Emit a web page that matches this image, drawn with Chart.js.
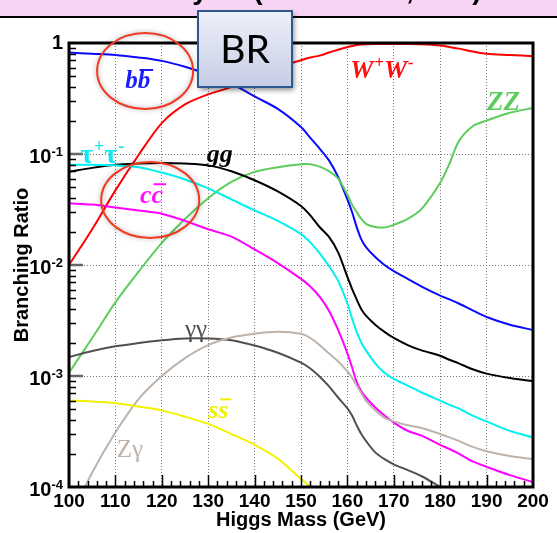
<!DOCTYPE html>
<html>
<head>
<meta charset="utf-8">
<script src="https://cdn.jsdelivr.net/npm/chart.js@4.4.1/dist/chart.umd.min.js"></script>
<style>
html, body { margin: 0; padding: 0; background: #fff; }
#c { display: block; }
</style>
</head>
<body>
<canvas id="c" width="557" height="533"></canvas>
<script>
// Higgs mass grid (GeV) and branching ratios
const masses = [100, 105, 110, 115, 120, 125, 130, 135, 140, 145, 150, 152, 154, 156, 158, 160, 161, 162, 163, 164, 166, 168, 170, 173, 176, 180, 182, 184, 187, 190, 195, 200];

const brBB = [0.82, 0.80, 0.78, 0.74, 0.69, 0.61, 0.52, 0.43, 0.33, 0.255, 0.175, 0.14, 0.112, 0.088, 0.062, 0.039, 0.030, 0.022, 0.017, 0.0145, 0.0118, 0.0100, 0.0088, 0.0075, 0.0064, 0.0053, 0.0049, 0.0045, 0.0039, 0.0034, 0.0029, 0.0026];
const brWW = [0.010, 0.021, 0.047, 0.098, 0.19, 0.28, 0.345, 0.40, 0.48, 0.60, 0.70, 0.74, 0.77, 0.82, 0.87, 0.92, 0.94, 0.96, 0.97, 0.975, 0.98, 0.98, 0.98, 0.98, 0.975, 0.95, 0.92, 0.89, 0.84, 0.80, 0.78, 0.76];
const brZZ = [0.00107, 0.0022, 0.0046, 0.0087, 0.0158, 0.026, 0.040, 0.056, 0.069, 0.076, 0.081, 0.081, 0.077, 0.070, 0.060, 0.043, 0.035, 0.030, 0.026, 0.0235, 0.022, 0.0218, 0.023, 0.026, 0.032, 0.055, 0.082, 0.13, 0.178, 0.20, 0.235, 0.26];
const brGG = [0.069, 0.075, 0.080, 0.082, 0.083, 0.082, 0.079, 0.070, 0.058, 0.046, 0.034, 0.028, 0.022, 0.018, 0.013, 0.0078, 0.0061, 0.0049, 0.0040, 0.0035, 0.0029, 0.0025, 0.0022, 0.0019, 0.0017, 0.00152, 0.0014, 0.0013, 0.00115, 0.00105, 0.00096, 0.00090];
const brTT = [0.080, 0.080, 0.079, 0.076, 0.068, 0.059, 0.049, 0.039, 0.031, 0.025, 0.019, 0.016, 0.0128, 0.0098, 0.0072, 0.0045, 0.0033, 0.0025, 0.0020, 0.0017, 0.0013, 0.00107, 0.00094, 0.00082, 0.00071, 0.00060, 0.00055, 0.00051, 0.00044, 0.00039, 0.00032, 0.00028];
const brCC = [0.036, 0.035, 0.033, 0.031, 0.029, 0.025, 0.021, 0.018, 0.0138, 0.0104, 0.0075, 0.0064, 0.0052, 0.0039, 0.0026, 0.0016, 0.0012, 0.00088, 0.00073, 0.00064, 0.00052, 0.00044, 0.00038, 0.00032, 0.00029, 0.00024, 0.00022, 0.00020, 0.00017, 0.000152, 0.000128, 0.000111];
const brAA = [0.00148, 0.00168, 0.00185, 0.00198, 0.0021, 0.00218, 0.00218, 0.0021, 0.00188, 0.00162, 0.00132, 0.00117, 0.00099, 0.00081, 0.00064, 0.00051, 0.00044, 0.00036, 0.0003, 0.00026, 0.000205, 0.000178, 0.00016, 0.000142, 0.000125, 0.0001, 0.00009, 0.00008, null, null, null, null];
const brZA = [0.00005, 0.000135, 0.00031, 0.00062, 0.00100, 0.00145, 0.0019, 0.00222, 0.0024, 0.0025, 0.0024, 0.0022, 0.0019, 0.0016, 0.00135, 0.0011, 0.00097, 0.00082, 0.0007, 0.0006, 0.00049, 0.00042, 0.00039, 0.00036, 0.00034, 0.00030, 0.00028, 0.00026, 0.00023, 0.00021, 0.00019, 0.000178];
const brSS = [0.0006, 0.00059, 0.00057, 0.00053, 0.00049, 0.00043, 0.00037, 0.00030, 0.00024, 0.00018, 0.000118, 0.0001, 0.00008, null, null, null, null, null, null, null, null, null, null, null, null, null, null, null, null, null, null, null];

const xTicks = [100, 110, 120, 130, 140, 150, 160, 170, 180, 190, 200];
const yTicks = [1e-4, 1e-3, 1e-2, 1e-1, 1];

// curve labels: text parts, position in data coordinates
const curveLabels = [
    { parts: [{ t: 'b' }, { t: 'b', bar: true }], m: 112.1, br: 0.393, color: '#1a1aff', font: 'italic bold 25px "Liberation Serif"' },
    { parts: [{ t: 'W' }, { t: '+', sup: true }, { t: 'W' }, { t: '-', sup: true }], m: 160.6, br: 0.484, color: '#ff1010', font: 'italic bold 26px "Liberation Serif"' },
    { parts: [{ t: 'ZZ' }], m: 190.1, br: 0.249, color: '#5ccc5c', font: 'italic bold 27px "Liberation Serif"' },
    { parts: [{ t: 'τ' }, { t: '+', sup: true }, { t: 'τ' }, { t: '-', sup: true }], m: 102.4, br: 0.083, color: '#10e8f0', font: 'bold 28px "Liberation Serif"' },
    { parts: [{ t: 'gg' }], m: 129.7, br: 0.0847, color: '#000', font: 'italic bold 26px "Liberation Serif"' },
    { parts: [{ t: 'c' }, { t: 'c', bar: true }], m: 115.3, br: 0.0362, color: '#ff10ff', font: 'italic bold 26px "Liberation Serif"' },
    { parts: [{ t: 'γγ' }], m: 125.0, br: 0.00225, color: '#505050', font: '25px "Liberation Serif"' },
    { parts: [{ t: 's' }, { t: 's', bar: true }], m: 130.0, br: 0.000418, color: '#f0f000', font: 'italic bold 26px "Liberation Serif"' },
    { parts: [{ t: 'Z' }, { t: 'γ' }], m: 110.3, br: 0.000186, color: '#bdb3ab', font: '25px "Liberation Serif"' }
];

// the red ellipses drawn over the plot
const ellipses = [
    { m: 116.4, br: 0.559, rx: 48, ry: 38 },
    { m: 117.5, br: 0.0385, rx: 49, ry: 38 }
];

function pts(ys) {
    return masses.map((m, i) => ({ x: m, y: ys[i] }));
}

function ds(label, ys, color) {
    return {
        label: label,
        data: pts(ys),
        borderColor: color,
        borderWidth: 2,
        pointRadius: 0,
        fill: false,
        tension: 0.3,
        spanGaps: false
    };
}

function drawLabel(ctx, lab, x, y) {
    ctx.save();
    ctx.fillStyle = lab.color;
    ctx.strokeStyle = lab.color;
    ctx.textBaseline = 'alphabetic';
    ctx.textAlign = 'left';
    const size = parseInt(lab.font.match(/(\d+)px/)[1]);
    let cx = x;
    lab.parts.forEach(p => {
        if (p.sup) {
            ctx.font = lab.font.replace(/\d+px/, Math.round(size * 0.65) + 'px');
            ctx.fillText(p.t, cx + 1, y - size * 0.4);
            cx += ctx.measureText(p.t).width + 1;
        } else {
            ctx.font = lab.font;
            ctx.fillText(p.t, cx, y);
            const w = ctx.measureText(p.t).width;
            if (p.bar) {
                ctx.lineWidth = 2;
                ctx.beginPath();
                ctx.moveTo(cx + 2, y - size * 0.72);
                ctx.lineTo(cx + w + 3, y - size * 0.72);
                ctx.stroke();
            }
            cx += w;
        }
    });
    ctx.restore();
}

const decor = {
    id: 'decor',
    beforeDraw(chart) {
        const ctx = chart.ctx;
        ctx.save();
        ctx.fillStyle = '#f7d4f4';
        ctx.fillRect(0, 0, chart.width, 16);
        ctx.fillStyle = '#000';
        ctx.fillRect(0, 16, chart.width, 2);
        // bottom of the cut-off slide title
        ctx.font = 'bold 28px "Liberation Sans"';
        ctx.textAlign = 'center';
        ctx.textBaseline = 'alphabetic';
        ctx.fillText('y', 200, -1);
        ctx.fillText('(', 258, -1);
        ctx.fillText(',', 410, -1);
        ctx.fillText(')', 477, -1);
        ctx.restore();
    },
    afterDatasetsDraw(chart) {
        const ctx = chart.ctx;
        const a = chart.chartArea;
        const xs = chart.scales.x, ys = chart.scales.y;
        ctx.save();
        // tick marks inside the frame
        ctx.strokeStyle = '#000';
        ctx.lineWidth = 1.5;
        ctx.beginPath();
        for (let m = 102; m < 200; m += 2) {
            const px = Math.round(xs.getPixelForValue(m)) + 0.5;
            const len = m % 10 === 0 ? 12 : 6;
            ctx.moveTo(px, a.bottom);
            ctx.lineTo(px, a.bottom - len);
        }
        for (let e = -4; e < 0; e++) {
            for (let k = 2; k <= 9; k++) {
                const py = Math.round(ys.getPixelForValue(k * Math.pow(10, e))) + 0.5;
                ctx.moveTo(a.left, py);
                ctx.lineTo(a.left + 7, py);
            }
        }
        ctx.stroke();
        ctx.strokeStyle = '#666';
        ctx.lineWidth = 2.5;
        ctx.beginPath();
        for (let e = -3; e < 0; e++) {
            const py = Math.round(ys.getPixelForValue(Math.pow(10, e)));
            ctx.moveTo(a.left, py);
            ctx.lineTo(a.left + 14, py);
        }
        ctx.stroke();
        // frame
        ctx.strokeStyle = '#000';
        ctx.lineWidth = 3;
        ctx.strokeRect(a.left, a.top, a.right - a.left, a.bottom - a.top);
        // y tick labels as 10 with a raised exponent
        ctx.fillStyle = '#000';
        ctx.textAlign = 'right';
        ctx.textBaseline = 'alphabetic';
        yTicks.forEach(v => {
            const py = ys.getPixelForValue(v);
            const e = Math.round(Math.log10(v));
            const rx = a.left - 6;
            if (e === 0) {
                ctx.font = 'bold 20px "Liberation Sans"';
                ctx.fillText('1', rx, py + 6);
                return;
            }
            ctx.font = 'bold 13px "Liberation Sans"';
            const ex = String(e);
            const ew = ctx.measureText(ex).width;
            ctx.fillText(ex, rx, py + 2);
            ctx.font = 'bold 20px "Liberation Sans"';
            ctx.fillText('10', rx - ew, py + 9);
        });
        // curve labels
        curveLabels.forEach(l => {
            drawLabel(ctx, l, xs.getPixelForValue(l.m), ys.getPixelForValue(l.br));
        });
        ctx.restore();
    },
    afterDraw(chart) {
        const ctx = chart.ctx;
        const xs = chart.scales.x, ys = chart.scales.y;
        ctx.save();
        // red ellipses
        ellipses.forEach(e => {
            const cx = xs.getPixelForValue(e.m), cy = ys.getPixelForValue(e.br);
            ctx.save();
            ctx.shadowColor = 'rgba(0,0,0,0.35)';
            ctx.shadowBlur = 5;
            ctx.strokeStyle = '#f03a22';
            ctx.lineWidth = 2;
            ctx.beginPath();
            ctx.ellipse(cx, cy, e.rx, e.ry, 0, 0, Math.PI * 2);
            ctx.stroke();
            ctx.restore();
        });
        // "BR" call-out box
        ctx.save();
        const bx = 198, by = 11, bw = 94, bh = 76;
        const g = ctx.createLinearGradient(0, by, 0, by + bh);
        g.addColorStop(0, '#eef0f8');
        g.addColorStop(1, '#c6cee6');
        ctx.shadowColor = 'rgba(0,0,0,0.45)';
        ctx.shadowBlur = 5;
        ctx.shadowOffsetX = 2;
        ctx.shadowOffsetY = 3;
        ctx.fillStyle = g;
        ctx.fillRect(bx, by, bw, bh);
        ctx.shadowColor = 'transparent';
        ctx.strokeStyle = '#2d5a8e';
        ctx.lineWidth = 2;
        ctx.strokeRect(bx, by, bw, bh);
        ctx.fillStyle = '#000';
        ctx.font = '39px Lato';
        ctx.textAlign = 'center';
        ctx.textBaseline = 'middle';
        ctx.fillText('BR', bx + bw / 2, by + bh / 2 + 1);
        ctx.restore();
        ctx.restore();
    }
};

new Chart(document.getElementById('c'), {
    type: 'line',
    data: {
        datasets: [
            ds('ss', brSS, '#f2f200'),
            ds('Zgamma', brZA, '#bdb3ab'),
            ds('gammagamma', brAA, '#505050'),
            ds('cc', brCC, '#ff00ff'),
            ds('tautau', brTT, '#00f0f0'),
            ds('gg', brGG, '#000000'),
            ds('ZZ', brZZ, '#5ccc5c'),
            ds('bb', brBB, '#0a0aff'),
            ds('WW', brWW, '#ff0000')
        ]
    },
    options: {
        responsive: false,
        animation: false,
        layout: { padding: { top: 43, right: 24, left: 0, bottom: 0 } },
        plugins: { legend: { display: false }, tooltip: { enabled: false } },
        scales: {
            x: {
                type: 'linear',
                min: 100,
                max: 200,
                afterFit: s => { s.height = 46; },
                afterBuildTicks: s => { s.ticks = xTicks.map(v => ({ value: v })); },
                grid: { color: '#777', lineWidth: 1, drawTicks: false },
                border: { display: false, dash: [1, 2] },
                ticks: {
                    color: '#000',
                    padding: 3,
                    maxRotation: 0,
                    font: { family: '"Liberation Sans"', size: 19, weight: 'bold' }
                },
                title: {
                    display: true,
                    text: 'Higgs Mass (GeV)',
                    color: '#000',
                    padding: { top: 0, bottom: 1 },
                    font: { family: '"Liberation Sans"', size: 20, weight: 'bold' }
                }
            },
            y: {
                type: 'logarithmic',
                min: 1e-4,
                max: 1,
                afterFit: s => { s.width = 69; },
                afterBuildTicks: s => { s.ticks = yTicks.map(v => ({ value: v })); },
                grid: { color: '#777', lineWidth: 1, drawTicks: false },
                border: { display: false, dash: [1, 2] },
                ticks: { display: false },
                title: {
                    display: true,
                    text: 'Branching Ratio',
                    color: '#000',
                    padding: { top: 10, bottom: 0 },
                    font: { family: '"Liberation Sans"', size: 20, weight: 'bold' }
                }
            }
        }
    },
    plugins: [decor]
});
</script>
</body>
</html>
